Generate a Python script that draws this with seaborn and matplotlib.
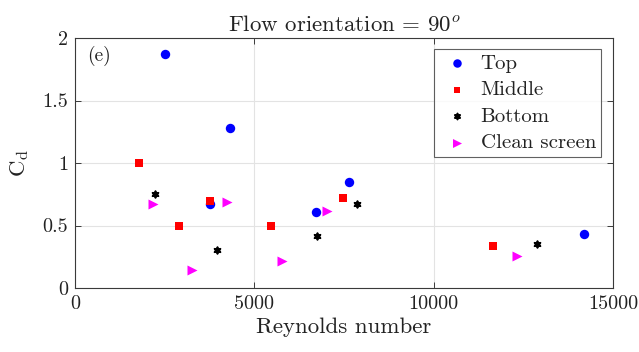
import numpy as np
import pandas as pd
import matplotlib
matplotlib.use("Agg")
import matplotlib.pyplot as plt
import seaborn as sns

# Drag coefficient measurements per sensor position
top_re = [2510, 4330, 3760, 6730, 7630, 14180]
top_cd = [1.87, 1.28, 0.67, 0.61, 0.85, 0.43]

middle_re = [1790, 2890, 3760, 5470, 7480, 11650]
middle_cd = [1.00, 0.50, 0.70, 0.50, 0.72, 0.34]

bottom_re = [2230, 3950, 6740, 7870, 12870]
bottom_cd = [0.755, 0.305, 0.415, 0.675, 0.352]

clean_re = [2175, 3270, 4250, 5780, 7035, 12315]
clean_cd = [0.675, 0.141, 0.688, 0.216, 0.616, 0.256]

series_names = ["Top", "Middle", "Bottom", "Clean screen"]
series_colors = ["#0000ff", "#ff0000", "#000000", "#ff00ff"]
series_markers = ["o", "s", (6, 1, 0), ">"]
series_sizes = [46, 30, 24, 52]
series_edges = [0, 0, 1.3, 0]

x_ticks = [0, 5000, 10000, 15000]
y_ticks = [0, 0.5, 1, 1.5, 2]

frames = []
for name, re, cd in zip(series_names,
                        [top_re, middle_re, bottom_re, clean_re],
                        [top_cd, middle_cd, bottom_cd, clean_cd]):
    frames.append(pd.DataFrame({"Re": re, "Cd": cd, "series": name}))
df = pd.concat(frames, ignore_index=True)

sns.set_theme(style="white")
plt.rcParams["font.family"] = ["cmr10", "DejaVu Serif"]
plt.rcParams["mathtext.fontset"] = "cm"
plt.rcParams["axes.formatter.use_mathtext"] = True

fig = plt.figure(figsize=(6.39, 3.52), dpi=100)
ax = fig.add_axes([75 / 639, 1 - 288 / 352, 538 / 639, 250 / 352])

for name, color, marker, size, ew in zip(series_names, series_colors,
                                         series_markers, series_sizes,
                                         series_edges):
    sub = df[df["series"] == name]
    sns.scatterplot(data=sub, x="Re", y="Cd", color=color, marker=marker,
                    s=size, linewidth=ew, edgecolor=color, label=name, ax=ax,
                    zorder=3)

ax.set_xlim(0, 15000)
ax.set_ylim(0, 2)
ax.set_xticks(x_ticks)
ax.set_yticks(y_ticks)
ax.set_xticklabels([str(t) for t in x_ticks])
ax.set_yticklabels(["0", "0.5", "1", "1.5", "2"])
ax.grid(True, color="#e3e3e3", linewidth=0.8)
ax.set_axisbelow(True)
for sp in ax.spines.values():
    sp.set_color("#3a3a3a")
    sp.set_linewidth(0.8)
ax.tick_params(direction="in", length=4, width=0.7, color="#3a3a3a",
               top=True, right=True, bottom=True, left=True,
               labelsize=14.5, pad=5, labelcolor="#222222")

ax.set_xlabel("Reynolds number", fontsize=16.5, color="#222222", labelpad=3)
ax.set_ylabel(r"C$_\mathrm{d}$", fontsize=16.5, color="#222222", labelpad=8)
ax.set_title(r"Flow orientation = 90$^o$", fontsize=16.5, color="#222222",
             pad=5)
ax.text(0.022, 0.93, "(e)", transform=ax.transAxes, fontsize=14,
        color="#222222", va="center", ha="left")

leg = ax.legend(loc="upper right", bbox_to_anchor=(0.978, 0.957),
                frameon=True, fancybox=False, fontsize=15,
                handletextpad=0.3, borderpad=0.25, labelspacing=0.38,
                handlelength=1.7, borderaxespad=0, markerscale=0.9)
leg.get_frame().set_edgecolor("#3a3a3a")
leg.get_frame().set_linewidth(0.8)
for t in leg.get_texts():
    t.set_color("#222222")

fig.savefig("out.png", dpi=100, facecolor="white")
